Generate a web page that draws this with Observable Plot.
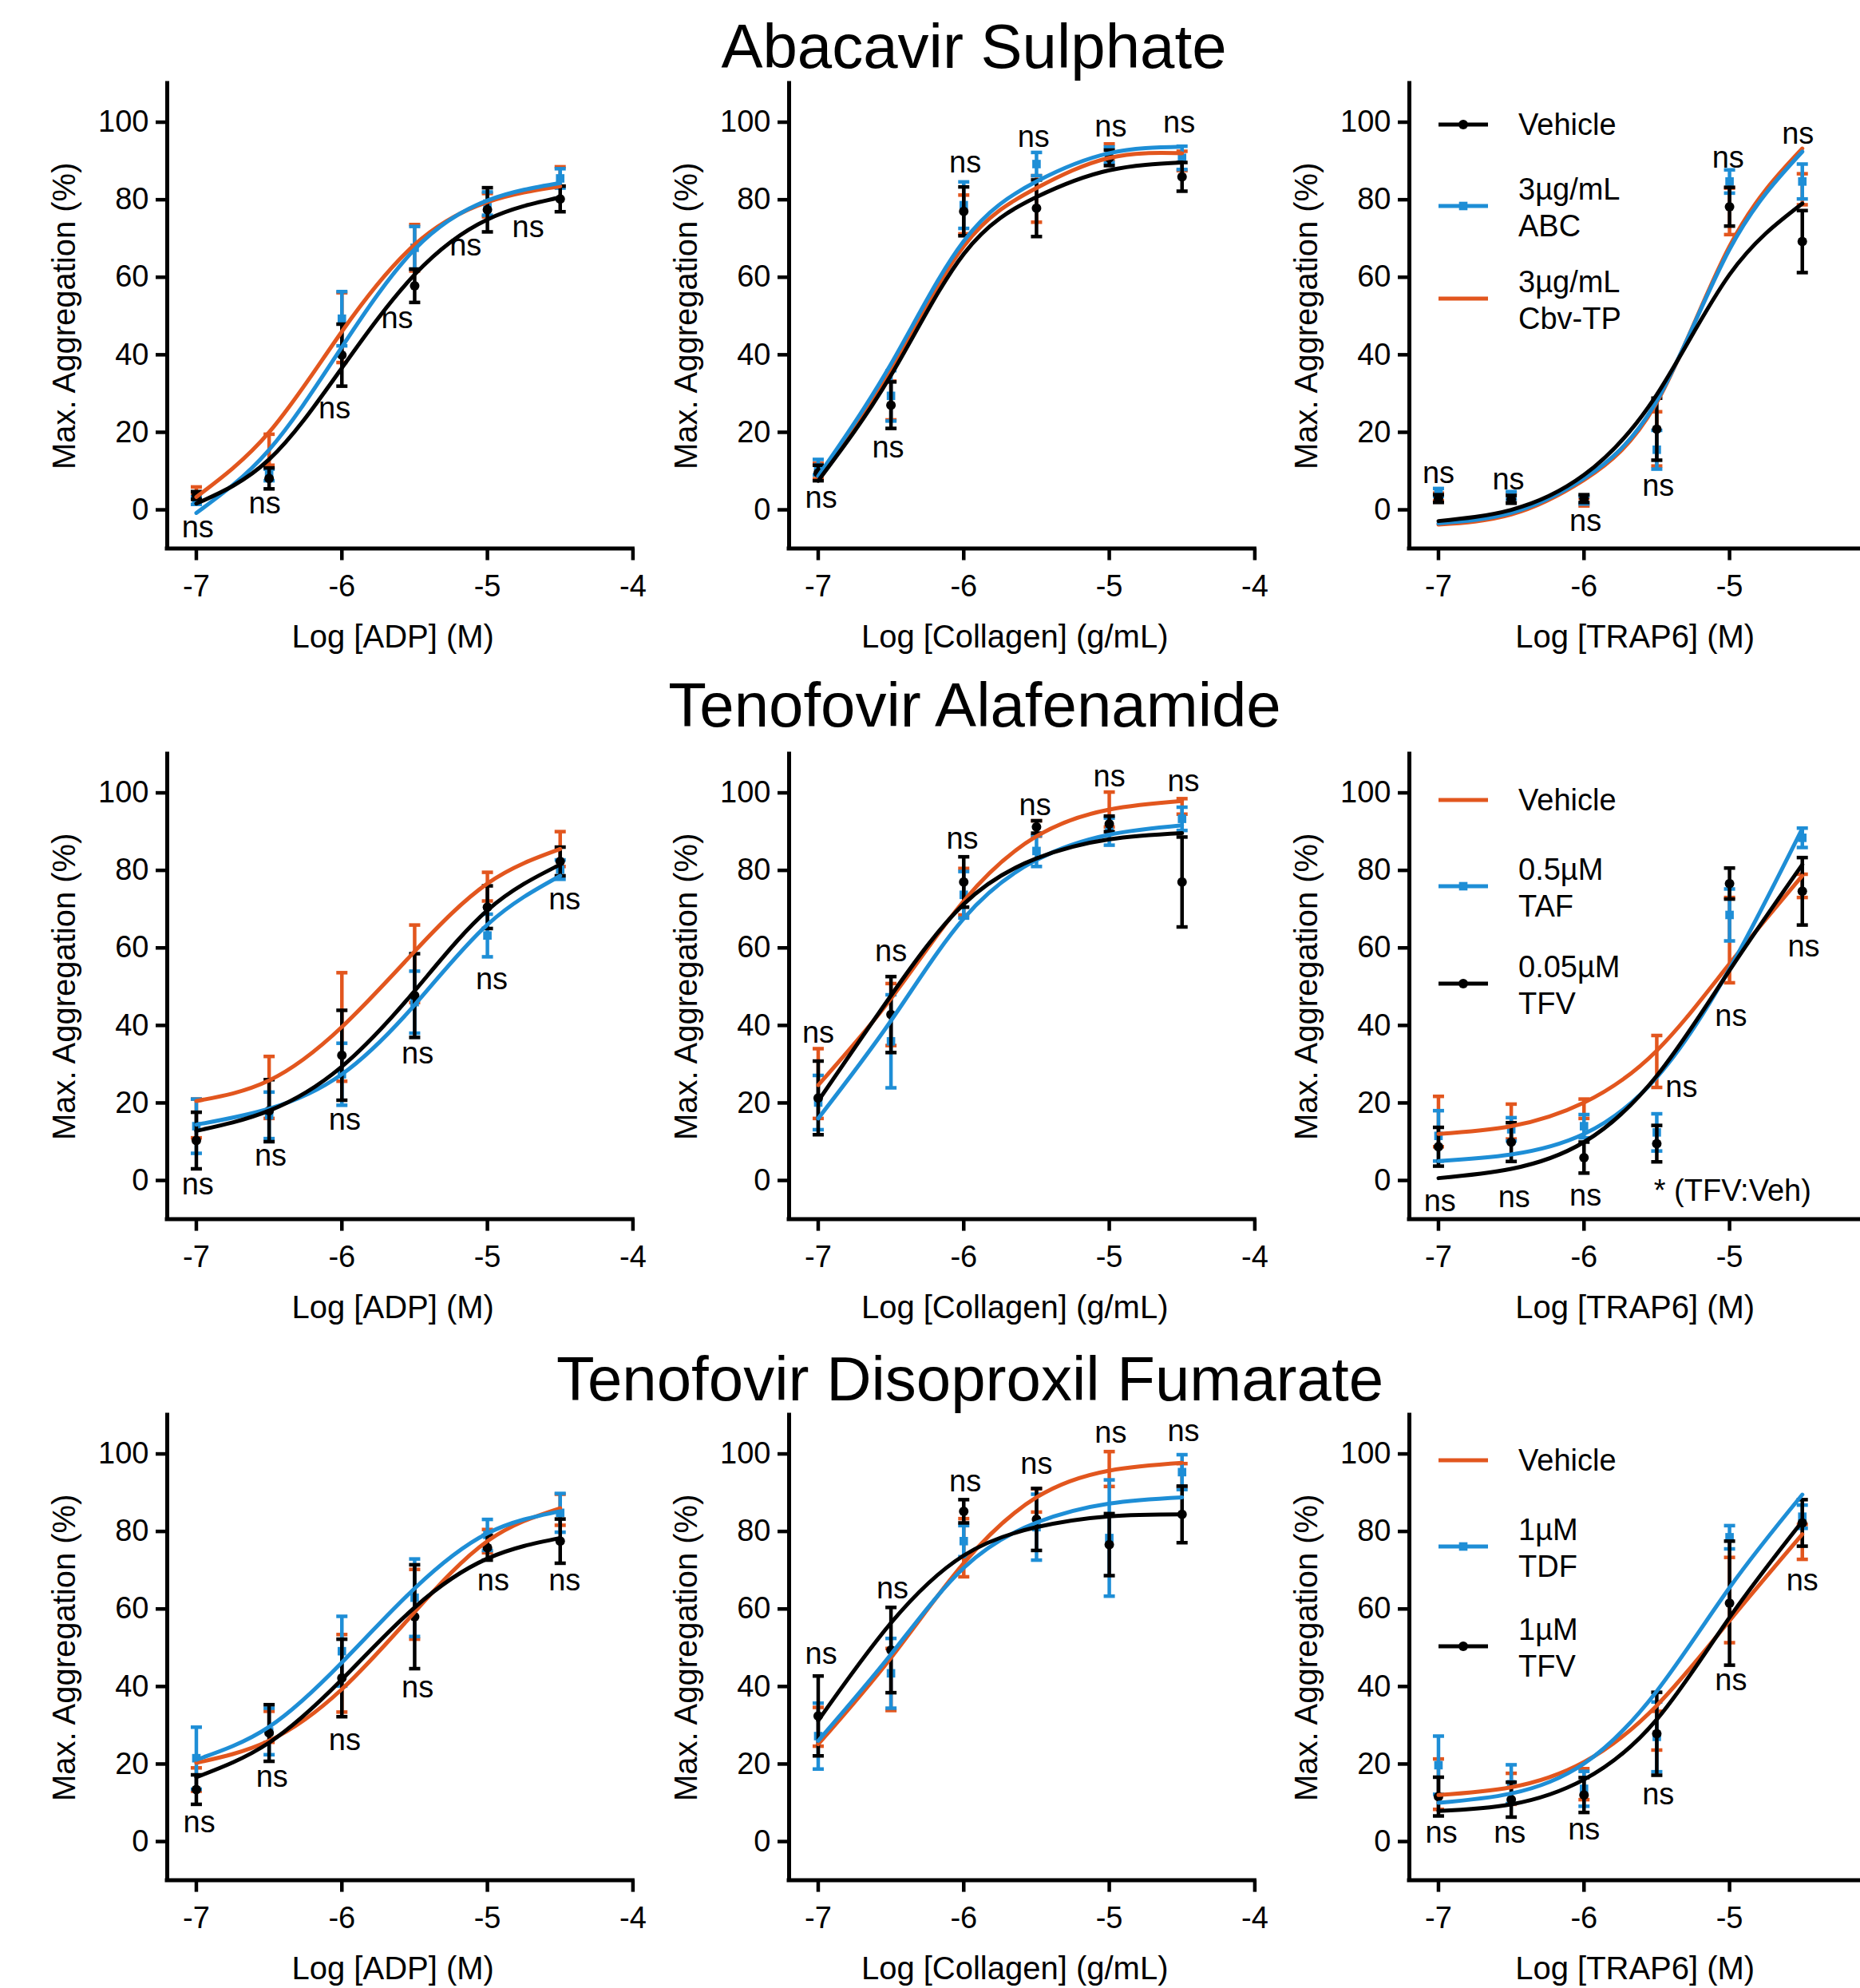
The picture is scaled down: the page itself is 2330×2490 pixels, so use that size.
<!DOCTYPE html>
<html><head><meta charset="utf-8">
<script src="https://cdn.jsdelivr.net/npm/d3@7"></script>
<script src="https://cdn.jsdelivr.net/npm/@observablehq/plot@0.6"></script>
<style>
html,body{margin:0;padding:0;background:#fff;}
body{width:2330px;height:2490px;overflow:hidden;position:relative;font-family:"Liberation Sans",Arial,Helvetica,sans-serif;color:#000;}
.title{position:absolute;font-size:78px;line-height:78px;text-align:center;width:2000px;white-space:nowrap;}
.panel{position:absolute;}
.panel svg{max-width:none !important;}
.leg{position:absolute;font-size:38px;line-height:38px;white-space:nowrap;}
.sw{position:absolute;}
</style></head>
<body>
<script>
// ---------------- data ----------------
const doses = [-7, -6.5, -6, -5.5, -5, -4.5];
const xTicks = [-7, -6, -5, -4];
const xTicksCut = [-7, -6, -5];   // third column runs off the right edge of the figure
const yTicks = [0, 20, 40, 60, 80, 100];
const titles = ["Abacavir Sulphate", "Tenofovir Alafenamide", "Tenofovir Disoproxil Fumarate"];
const xLabels = ["Log [ADP] (M)", "Log [Collagen] (g/mL)", "Log [TRAP6] (M)"];
const yLabel = "Max. Aggregation (%)";
const legendLabels = [
  [["Vehicle"], ["3µg/mL", "ABC"], ["3µg/mL", "Cbv-TP"]],
  [["Vehicle"], ["0.5µM", "TAF"], ["0.05µM", "TFV"]],
  [["Vehicle"], ["1µM", "TDF"], ["1µM", "TFV"]]
];
const seriesColors = [["black", "blue", "orange"], ["orange", "blue", "black"], ["orange", "blue", "black"]];
const starNote = "* (TFV:Veh)";
const starPos = [-5.52, -2.7];

// Row 1: Abacavir — series order [Vehicle, ABC, Cbv-TP]
const abcADP_mean = [[3.7, 8.1, 39.9, 57.8, 77.4, 80.2], [2.4, 9, 49.3, 67.6, 79, 85.5], [4.9, 15.5, 47, 67.6, 78.6, 86]];
const abcADP_sem  = [[1, 2.7, 8, 4.3, 5.7, 3.3], [1, 1.5, 7, 5.5, 3, 2.5], [1, 4, 9, 6, 3, 2.5]];
const abcADP_fit  = [[1.6, 13, 36.6, 60.7, 74.9, 80.6], [-0.8, 15.5, 42, 67.2, 79.8, 84.3], [3.3, 20, 46, 68.4, 79.4, 83.5]];
const abcADP_nsX  = [-6.99, -6.53, -6.05, -5.62, -5.15, -4.72];
const abcADP_nsY  = [-4.5, 1.6, 26, 49.3, 68.2, 72.9];

const abcCOL_mean = [[9.5, 27, 77, 77.8, 90.8, 85.9], [11, 29.4, 78.6, 89.2, 91.6, 90.8], [10, 28.2, 76.2, 80.2, 92.4, 90]];
const abcCOL_sem  = [[2, 6, 6.3, 7.3, 2, 3.7], [2, 6.5, 6, 3, 2, 3], [2, 5, 5, 6, 2, 2.5]];
const abcCOL_fit  = [[7.5, 34.7, 66, 80.7, 87.6, 89.6], [8.7, 37.6, 69.3, 84.7, 92, 93.7], [8.3, 36.3, 68, 83, 90.8, 92]];
const abcCOL_nsX  = [-6.98, -6.52, -5.99, -5.52, -4.99, -4.52];
const abcCOL_nsY  = [3, 16, 89.6, 96.1, 98.9, 99.8];

const abcTRAP_mean = [[2.9, 2.7, 2.9, 20.8, 78.2, 69.2], [4.5, 3.7, 2.5, 15.5, 84.7, 84.7], [3.3, 3.3, 2, 18.3, 77, 82.7]];
const abcTRAP_sem  = [[1, 1, 1, 8, 5, 8], [1, 1, 1, 5, 3, 4.5], [1, 1, 1, 7, 6, 4]];
const abcTRAP_fit  = [[-2.9, 0, 9, 29.7, 60.7, 79], [-3.5, -0.8, 8.1, 28.1, 67.2, 92.4], [-3.8, -1.2, 7.7, 27.7, 68, 93.2]];
const abcTRAP_nsX  = [-7, -6.52, -5.99, -5.49, -5.01, -4.53];
const abcTRAP_nsY  = [9.4, 7.7, -2.9, 6.1, 90.8, 96.9];

// Row 2: TAF — series order [Vehicle, TAF, TFV]
const tafADP_mean = [[16, 24, 39.6, 55.9, 75.8, 85.5], [14, 16.8, 27.4, 46, 63.2, 80.2], [10.3, 18, 32.3, 47.7, 70.5, 82.3]];
const tafADP_sem  = [[5, 8, 14, 10, 3.7, 4.5], [7, 6, 8, 8, 5.5, 2.5], [7.3, 8, 11.6, 10.8, 5.5, 3.7]];
const tafADP_fit  = [[20.5, 25.8, 39.6, 59.1, 76.6, 85.5], [14.4, 18.5, 27.4, 45.3, 66, 78.6], [12.8, 18, 29.4, 48.9, 69.7, 81.5]];
const tafADP_nsX  = [-6.99, -6.49, -5.98, -5.48, -4.97, -4.47];
const tafADP_nsY  = [-1, 6.3, 15.6, 32.7, 51.8, 72.5];

const tafCOL_mean = [[25, 42.8, 74.5, 90.8, 95.7, 96.5], [20.1, 35.9, 73.7, 85, 90, 93.3], [21.3, 42.8, 77, 91.2, 92, 77]];
const tafCOL_sem  = [[9, 8, 6, 2, 4.5, 2], [7, 12, 6, 4, 3.5, 3], [9.5, 9.8, 6.5, 1.6, 2, 11.6]];
const tafCOL_fit  = [[24.6, 46.9, 72.1, 88.8, 95.7, 97.9], [16, 41.2, 67.6, 82.7, 89.2, 91.6], [20.5, 47.7, 71.3, 83.1, 88, 89.6]];
const tafCOL_nsX  = [-7, -6.5, -6.01, -5.51, -5, -4.49];
const tafCOL_nsY  = [38, 59, 88, 96.7, 104.2, 103];

const tafTRAP_mean = [[15.2, 15.2, 18.5, 30.7, 62, 76], [11.5, 13.2, 14, 12.4, 68.5, 88.4], [8.7, 9.9, 5.9, 9.5, 76.6, 74.6]];
const tafTRAP_sem  = [[6.5, 4.5, 2.5, 6.7, 11, 3], [6.5, 3, 3, 4.8, 6.7, 2.5], [5, 5, 4, 4.7, 4, 8.7]];
const tafTRAP_fit  = [[12, 14, 20.1, 33.5, 55.9, 78.6], [5, 6.7, 12, 26.6, 54.6, 90.8], [0.6, 3, 9.9, 27, 54.2, 81.5]];
const tafTRAP_nsX  = [-6.99, -6.48, -5.99, -5.33, -4.99, -4.49];
const tafTRAP_nsY  = [-5.5, -4.3, -3.9, 24.1, 42.4, 60.3];

// Row 3: TDF — series order [Vehicle, TDF, TFV]
const tdfADP_mean = [[16, 29.6, 43.4, 61.2, 77.5, 85.6], [21.5, 28.4, 49.1, 62.9, 79.1, 84.8], [13.4, 28, 42.2, 58, 75.8, 77.5]];
const tdfADP_sem  = [[3, 4, 10, 9, 3, 4], [8, 6, 9, 10, 4, 5], [3.8, 7.3, 10, 13.4, 3.2, 5.7]];
const tdfADP_fit  = [[20.3, 26, 39.3, 59.2, 77.5, 86], [21.1, 29.6, 46.2, 65.3, 79.5, 85.2], [16.6, 25.5, 41.8, 60.4, 73, 78.3]];
const tdfADP_nsX  = [-6.98, -6.48, -5.98, -5.48, -4.96, -4.47];
const tdfADP_nsY  = [4.9, 16.6, 26, 39.7, 67.3, 67.3];

const tdfCOL_mean = [[29.6, 41.8, 75.8, 88, 96.1, 94.5], [27.2, 43.4, 77.5, 81.1, 78.3, 95.3], [32.4, 49.4, 85.2, 83.1, 76.6, 84.4]];
const tdfCOL_sem  = [[5, 8, 7.5, 3, 4.5, 3], [8.5, 9, 4, 8.5, 15, 4.5], [10.3, 11, 3, 8, 8, 7.3]];
const tdfCOL_fit  = [[25.1, 47.4, 71.8, 88.8, 95.7, 97.7], [26, 48.3, 70.6, 82.3, 87.2, 88.8], [31.2, 56.4, 73.8, 81.1, 83.9, 84.4]];
const tdfCOL_nsX  = [-6.98, -6.49, -5.99, -5.5, -4.99, -4.49];
const tdfCOL_nsY  = [48.3, 65.3, 92.9, 97.3, 105.4, 105.8];

const tdfTRAP_mean = [[14.8, 13.6, 14.8, 28.6, 62.3, 77.3], [19.7, 14.8, 13.6, 27, 78.5, 83.8], [11.6, 10.8, 12, 27.8, 61.5, 82.2]];
const tdfTRAP_sem  = [[6.5, 4, 4, 5, 11, 4.5], [7.5, 5, 4.5, 9, 3, 3], [5, 4.5, 4.5, 10.7, 16, 6]];
const tdfTRAP_fit  = [[12, 14, 20.5, 35.1, 57, 79.3], [10, 12.4, 20.1, 38.8, 65.5, 89.5], [7.9, 9.6, 16, 31.5, 57.8, 82.6]];
const tdfTRAP_nsX  = [-6.98, -6.51, -6, -5.49, -4.99, -4.5];
const tdfTRAP_nsY  = [2.3, 2.3, 3.1, 12, 41.6, 67.2];

// table of panels built from the arrays
const panels = [
  [{mean: abcADP_mean, sem: abcADP_sem, fit: abcADP_fit, nsX: abcADP_nsX, nsY: abcADP_nsY},
   {mean: abcCOL_mean, sem: abcCOL_sem, fit: abcCOL_fit, nsX: abcCOL_nsX, nsY: abcCOL_nsY},
   {mean: abcTRAP_mean, sem: abcTRAP_sem, fit: abcTRAP_fit, nsX: abcTRAP_nsX, nsY: abcTRAP_nsY}],
  [{mean: tafADP_mean, sem: tafADP_sem, fit: tafADP_fit, nsX: tafADP_nsX, nsY: tafADP_nsY},
   {mean: tafCOL_mean, sem: tafCOL_sem, fit: tafCOL_fit, nsX: tafCOL_nsX, nsY: tafCOL_nsY},
   {mean: tafTRAP_mean, sem: tafTRAP_sem, fit: tafTRAP_fit, nsX: tafTRAP_nsX, nsY: tafTRAP_nsY}],
  [{mean: tdfADP_mean, sem: tdfADP_sem, fit: tdfADP_fit, nsX: tdfADP_nsX, nsY: tdfADP_nsY},
   {mean: tdfCOL_mean, sem: tdfCOL_sem, fit: tdfCOL_fit, nsX: tdfCOL_nsX, nsY: tdfCOL_nsY},
   {mean: tdfTRAP_mean, sem: tdfTRAP_sem, fit: tdfTRAP_fit, nsX: tdfTRAP_nsX, nsY: tdfTRAP_nsY}]
];

// ---------------- layout & style ----------------
const FONT = '"Liberation Sans", Arial, Helvetica, sans-serif';
const COLORS = {black: "#000000", blue: "#1E8ED6", orange: "#E2561E"};
const SYMBOL = {black: "circle", blue: "square", orange: "plus"};
const MARKER_R = {black: 6, blue: 6, orange: 4.5};
const xDomain = [-7.2, -4];
const yDomain = [-10, 110];
const colLeft = [209.4, 987.8, 1764.5];
const rowTop = [103.5, 943.5, 1771.5];
const frameW = 583.4, frameH = 582.6;
const M = {left: 170, right: 25, top: 20, bottom: 150};
const titleBaseline = [84, 909, 1753];
const titleCenter = [1220, 1221, 1215];
const legendLineY = [[52.5, 154.5, 270.5], [58.5, 166.5, 288.5], [57.5, 165.5, 290.5]];
const legendLineX = [1802, 1864];
const legendTextX = 1902;

const capSymbol = {
  draw(ctx, size) {
    const r = Math.sqrt(size / Math.PI);
    ctx.moveTo(-r, 0);
    ctx.lineTo(r, 0);
  }
};

function makePanel(r, c) {
  const P = panels[r][c];
  const cols = seriesColors[r];
  const drawOrder = ["orange", "blue", "black"].map(k => cols.indexOf(k));
  const marks = [];
  marks.push(Plot.ruleX([xDomain[0]], {stroke: "black", strokeWidth: 5, strokeLinecap: "square"}));
  marks.push(Plot.ruleY([yDomain[0]], {stroke: "black", strokeWidth: 5, strokeLinecap: "square"}));
  marks.push(Plot.axisY({ticks: yTicks, tickSize: 14, tickPadding: 9, strokeWidth: 4.5, fontSize: 38, label: null, tickFormat: d => String(d)}));
  marks.push(Plot.axisX({ticks: c === 2 ? xTicksCut : xTicks, tickSize: 15, tickPadding: 18, strokeWidth: 4.5, fontSize: 38, label: null, tickFormat: d => String(d)}));
  for (const s of drawOrder) {
    const k = cols[s];
    const pts = doses.map((x, i) => ({x, y: P.mean[s][i], e: P.sem[s][i]}));
    marks.push(Plot.ruleX(pts, {x: "x", y1: d => d.y - d.e, y2: d => d.y + d.e, stroke: COLORS[k], strokeWidth: 4.5}));
    marks.push(Plot.dot(pts, {x: "x", y: d => d.y + d.e, symbol: capSymbol, r: 7, stroke: COLORS[k], strokeWidth: 4.5, fill: "none"}));
    marks.push(Plot.dot(pts, {x: "x", y: d => d.y - d.e, symbol: capSymbol, r: 7, stroke: COLORS[k], strokeWidth: 4.5, fill: "none"}));
    marks.push(Plot.dot(pts, {x: "x", y: "y", symbol: SYMBOL[k], r: MARKER_R[k], fill: COLORS[k], stroke: "none"}));
  }
  for (const s of drawOrder) {
    const k = cols[s];
    const fp = doses.map((x, i) => ({x, y: P.fit[s][i]}));
    marks.push(Plot.line(fp, {x: "x", y: "y", stroke: COLORS[k], strokeWidth: 5, curve: "natural"}));
  }
  marks.push(Plot.text(P.nsX.map((x, i) => ({x, y: P.nsY[i]})), {x: "x", y: "y", text: () => "ns", fontSize: 38, lineAnchor: "middle", fill: "black"}));
  if (r === 1 && c === 2) {
    marks.push(Plot.text([starNote], {x: () => starPos[0], y: () => starPos[1], text: d => d, textAnchor: "start", lineAnchor: "middle", fontSize: 38, fill: "black"}));
  }
  marks.push(Plot.text([yLabel], {frameAnchor: "left", dx: -128, rotate: -90, text: d => d, fontSize: 40, textAnchor: "middle", lineAnchor: "middle", fill: "black"}));
  marks.push(Plot.text([xLabels[c]], {frameAnchor: "bottom", dy: 111, dx: -9, text: d => d, fontSize: 40, textAnchor: "middle", lineAnchor: "middle", fill: "black"}));

  const W = M.left + frameW + M.right;
  const H = M.top + frameH + M.bottom;
  const svg = Plot.plot({
    width: W,
    height: H,
    marginLeft: M.left, marginRight: M.right, marginTop: M.top, marginBottom: M.bottom,
    x: {domain: xDomain},
    y: {domain: yDomain},
    style: {fontFamily: FONT, fontSize: "38px", color: "black", background: "transparent", overflow: "visible", maxWidth: "none"},
    marks
  });
  svg.style.maxWidth = "none";
  svg.style.width = W + "px";
  svg.style.height = H + "px";
  const div = document.createElement("div");
  div.className = "panel";
  div.style.left = (colLeft[c] - M.left) + "px";
  div.style.top = (rowTop[r] - M.top) + "px";
  div.style.width = W + "px";
  div.style.height = H + "px";
  div.appendChild(svg);
  document.body.appendChild(div);
}

function makeTitle(r) {
  const d = document.createElement("div");
  d.className = "title";
  d.textContent = titles[r];
  d.style.left = (titleCenter[r] - 1000) + "px";
  d.style.top = (titleBaseline[r] - 65) + "px";
  document.body.appendChild(d);
}

function makeLegend(r) {
  const cols = seriesColors[r];
  legendLabels[r].forEach((lines, s) => {
    const k = cols[s];
    const ly = rowTop[r] + legendLineY[r][s];
    const w = legendLineX[1] - legendLineX[0];
    const ns = "http://www.w3.org/2000/svg";
    const sv = document.createElementNS(ns, "svg");
    sv.setAttribute("class", "sw");
    sv.setAttribute("width", w + 10);
    sv.setAttribute("height", 24);
    sv.style.left = (legendLineX[0] - 5) + "px";
    sv.style.top = (ly - 12) + "px";
    const ln = document.createElementNS(ns, "line");
    ln.setAttribute("x1", 5); ln.setAttribute("x2", 5 + w);
    ln.setAttribute("y1", 12); ln.setAttribute("y2", 12);
    ln.setAttribute("stroke", COLORS[k]); ln.setAttribute("stroke-width", 5);
    sv.appendChild(ln);
    const cx = 5 + w / 2;
    const sym = document.createElementNS(ns, "path");
    const symType = {circle: d3.symbolCircle, square: d3.symbolSquare, plus: d3.symbolPlus}[SYMBOL[k]];
    const rr = MARKER_R[k];
    sym.setAttribute("d", d3.symbol(symType, rr * rr * Math.PI)());
    sym.setAttribute("transform", `translate(${cx},12)`);
    sym.setAttribute("fill", COLORS[k]);
    sv.appendChild(sym);
    document.body.appendChild(sv);
    const offsets = lines.length === 1 ? [0] : [-21, 25];
    lines.forEach((t, j) => {
      const td = document.createElement("div");
      td.className = "leg";
      td.textContent = t;
      td.style.left = legendTextX + "px";
      td.style.top = (ly + offsets[j] - 19) + "px";
      document.body.appendChild(td);
    });
  });
}

for (let r = 0; r < 3; r++) {
  makeTitle(r);
  for (let c = 0; c < 3; c++) makePanel(r, c);
  makeLegend(r);
}
</script>
</body></html>
